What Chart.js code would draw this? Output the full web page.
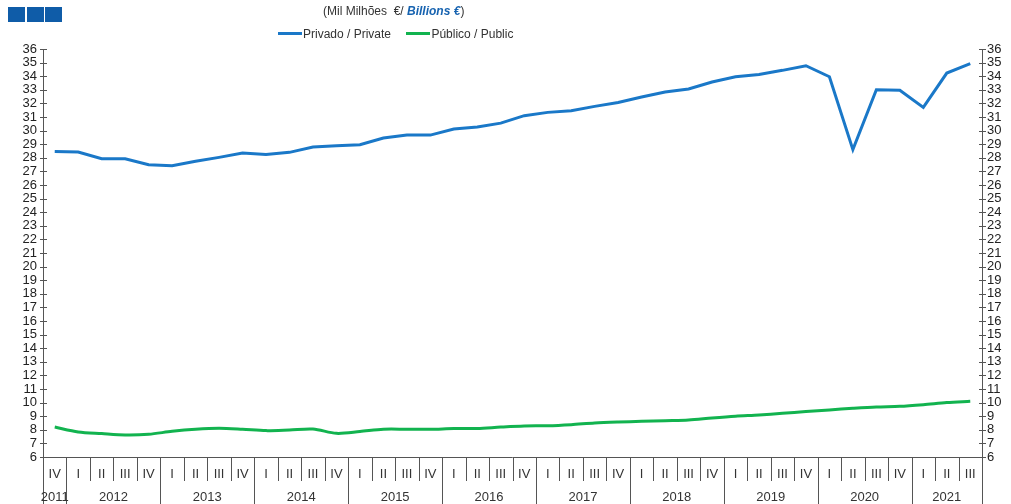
<!DOCTYPE html>
<html>
<head>
<meta charset="utf-8">
<script src="https://cdn.jsdelivr.net/npm/chart.js@4/dist/chart.umd.min.js"></script>
<style>
  body { margin: 0; background: #fff; font-family: 'Liberation Sans', Arial, sans-serif; }
  #wrap { position: relative; width: 1011px; height: 504px; }
  .logo { position: absolute; top: 7px; width: 17px; height: 15px; background: #0f5ca8; }
  #title { position: absolute; left: 323px; top: 4px; font-size: 12px; color: #333; white-space: nowrap; }
  #title b { color: #1763b0; font-style: italic; }
  #legend { position: absolute; left: 278px; top: 27px; font-size: 12px; color: #333; white-space: nowrap; }
  #legend span.sw { display: inline-block; width: 24px; height: 3px; vertical-align: middle; margin-right: 1px; position: relative; top: -1px; }
  #legend span.item { margin-right: 12px; }
</style>
</head>
<body>
<div id="wrap">
  <div class="logo" style="left:8px"></div>
  <div class="logo" style="left:27px"></div>
  <div class="logo" style="left:45px"></div>
  <div id="title">(Mil Milhões &nbsp;€/ <b>Billions €</b>)</div>
  <div id="legend">
    <span class="item"><span class="sw" style="background:#1a78c8"></span>Privado / Private</span>
    <span class="item"><span class="sw" style="background:#12b34f"></span>Público / Public</span>
  </div>
  <canvas id="chart" width="1011" height="504"></canvas>
</div>
<script>
// Quarters from 2011 IV to 2021 III
const years = ['2011', '2012', '2013', '2014', '2015', '2016', '2017', '2018', '2019', '2020', '2021'];
const quarters = ['IV',
  'I', 'II', 'III', 'IV', 'I', 'II', 'III', 'IV', 'I', 'II', 'III', 'IV',
  'I', 'II', 'III', 'IV', 'I', 'II', 'III', 'IV', 'I', 'II', 'III', 'IV',
  'I', 'II', 'III', 'IV', 'I', 'II', 'III', 'IV', 'I', 'II', 'III', 'IV',
  'I', 'II', 'III'];
// number of quarters shown per year
const quartersPerYear = [1, 4, 4, 4, 4, 4, 4, 4, 4, 4, 3];

const privado = [28.47, 28.43, 27.93, 27.93, 27.49, 27.42, 27.74, 28.03, 28.35, 28.25,
  28.4, 28.79, 28.89, 28.96, 29.45, 29.67, 29.67, 30.12, 30.26, 30.55,
  31.1, 31.34, 31.46, 31.78, 32.07, 32.47, 32.84, 33.06, 33.57, 33.96,
  34.13, 34.43, 34.77, 33.96, 28.6, 33.0, 32.97, 31.71, 34.23, 34.92];
const publico = [8.2, 7.84, 7.72, 7.62, 7.67, 7.89, 8.04, 8.11, 8.04, 7.94,
  7.99, 8.06, 7.74, 7.87, 8.04, 8.04, 8.04, 8.09, 8.1, 8.2,
  8.28, 8.3, 8.38, 8.5, 8.57, 8.62, 8.67, 8.72, 8.87, 9.0,
  9.09, 9.21, 9.34, 9.46, 9.58, 9.68, 9.73, 9.85, 10.0, 10.1];

const yMin = 6;
const yMax = 36;

const FONT = "'Liberation Sans', Arial, sans-serif";
const AXIS = '#555';

/**
 * Draws axis lines, cross ticks and the two-level quarter / year axis
 */
const axesPlugin = {
  id: 'axesPlugin',
  afterDraw: (chart) => {
    const { ctx, chartArea, scales } = chart;
    const x = scales.x, y = scales.y;
    const half = (x.getPixelForValue(1) - x.getPixelForValue(0)) / 2;
    const bottom = chartArea.bottom;
    const H = chart.height;

    ctx.save();
    ctx.strokeStyle = AXIS;
    ctx.lineWidth = 1;
    ctx.beginPath();
    // vertical axis lines (extend down through the category boxes)
    ctx.moveTo(chartArea.left + 0.5, chartArea.top);
    ctx.lineTo(chartArea.left + 0.5, H);
    ctx.moveTo(chartArea.right + 0.5, chartArea.top);
    ctx.lineTo(chartArea.right + 0.5, H);
    // bottom axis
    ctx.moveTo(chartArea.left, Math.round(bottom) + 0.5);
    ctx.lineTo(chartArea.right, Math.round(bottom) + 0.5);
    // cross ticks on both value axes
    for (let v = yMin; v <= yMax; v++) {
      const py = Math.round(y.getPixelForValue(v)) + 0.5;
      ctx.moveTo(chartArea.left - 3, py);
      ctx.lineTo(chartArea.left + 4, py);
      ctx.moveTo(chartArea.right - 3, py);
      ctx.lineTo(chartArea.right + 4, py);
    }
    // quarter separators
    let idx = 0;
    const yearStart = [];
    quartersPerYear.forEach(n => { yearStart.push(idx); idx += n; });
    for (let i = 1; i < quarters.length; i++) {
      const px = Math.round(x.getPixelForValue(i) - half) + 0.5;
      const isYear = yearStart.indexOf(i) >= 0;
      ctx.moveTo(px, bottom);
      ctx.lineTo(px, isYear ? H : bottom + 24);
    }
    ctx.stroke();

    // quarter labels
    ctx.fillStyle = '#333';
    ctx.font = '13px ' + FONT;
    ctx.textAlign = 'center';
    ctx.textBaseline = 'middle';
    quarters.forEach((q, i) => {
      ctx.fillText(q, x.getPixelForValue(i), bottom + 17);
    });

    // year labels
    yearStart.forEach((s, k) => {
      const n = quartersPerYear[k];
      const cx = (x.getPixelForValue(s) + x.getPixelForValue(s + n - 1)) / 2;
      ctx.fillText(years[k], cx, bottom + 40);
    });
    ctx.restore();
  }
};

const labels = quarters.map((q, i) => q + ' ' + i);

new Chart(document.getElementById('chart'), {
  type: 'line',
  plugins: [axesPlugin],
  data: {
    labels: labels,
    datasets: [
      {
        label: 'Privado / Private',
        data: privado,
        borderColor: '#1a78c8',
        borderWidth: 3,
        pointRadius: 0,
        tension: 0,
        yAxisID: 'y'
      },
      {
        label: 'Público / Public',
        data: publico,
        borderColor: '#12b34f',
        borderWidth: 3,
        pointRadius: 0,
        tension: 0.3,
        yAxisID: 'y'
      }
    ]
  },
  options: {
    responsive: false,
    animation: false,
    layout: { padding: { top: 49, bottom: 47, left: 0, right: 0 } },
    plugins: {
      legend: { display: false },
      tooltip: { enabled: false }
    },
    scales: {
      x: {
        display: false,
        offset: true
      },
      y: {
        position: 'left',
        min: yMin,
        max: yMax,
        afterFit: s => { s.width = 43; },
        grid: { display: false, drawTicks: false },
        border: { display: false },
        ticks: { stepSize: 1, autoSkip: false, padding: 6, color: '#222', font: { family: FONT, size: 13 } }
      },
      y2: {
        position: 'right',
        min: yMin,
        max: yMax,
        afterFit: s => { s.width = 29; },
        grid: { display: false, drawTicks: false },
        border: { display: false },
        ticks: { stepSize: 1, autoSkip: false, padding: 5, color: '#222', font: { family: FONT, size: 13 } }
      }
    }
  }
});
</script>
</body>
</html>
